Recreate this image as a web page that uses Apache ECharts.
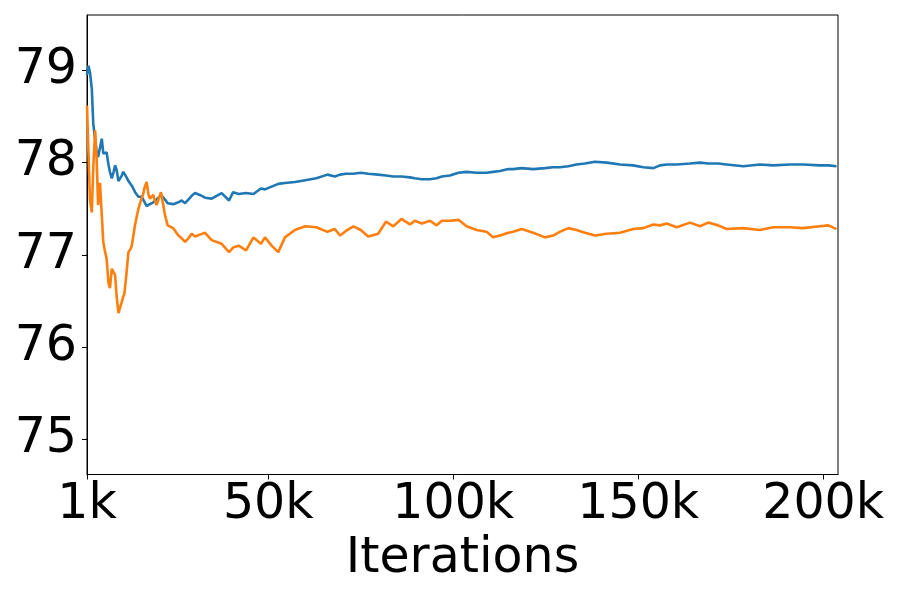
<!DOCTYPE html>
<html>
<head>
<meta charset="utf-8">
<script src="https://cdn.jsdelivr.net/npm/echarts@6/dist/echarts.min.js"></script>
<style>
  html, body { margin: 0; padding: 0; background: #fff; }
  #chart { width: 900px; height: 600px; }
</style>
</head>
<body>
<div id="chart"></div>
<script>
// iterations, in thousands
var iters = [1.0, 1.4, 1.8, 2.3, 2.7, 3.2, 3.6, 4.0, 4.5, 5.0, 5.4, 5.9, 6.3, 6.8, 7.2, 7.7, 8.2, 8.6, 9.0, 9.5,
  9.9, 10.4, 10.8, 11.1, 11.7, 12.2, 12.7, 13.1, 13.5, 14.0, 14.9, 15.8, 16.2, 16.5, 17.1, 17.6, 18.0, 18.9, 19.4, 19.8,
  21.0, 22.1, 22.8, 24.3, 25.7, 26.6, 27.5, 28.4, 29.3, 30.2, 31.5, 32.9,
  34.7, 37.4, 39.4, 40.5, 42, 44, 46, 48, 49.1, 50.9, 52.7, 54.5, 57.2, 60, 63, 66, 68, 69.4, 71, 73, 75, 77, 79.7,
  81.8, 83.8, 86, 88.3, 89.6, 91.5, 93.7, 95.5, 96.9, 99.1, 101.4, 103.6, 106.3, 109, 110.8, 112.6, 114.9, 116.2,
  118.5, 121.6, 124.8, 127, 128.8, 131.1, 133.3, 135.6, 138.3, 141.5, 145.1, 148.6, 151.4, 154.1, 155.9, 157.7,
  160.4, 164, 166.7, 168.9, 171.6, 173.9, 178.4, 182.9, 186.5, 191, 194.6, 199.1, 201.4, 203.6];

var blueAcc = [78.95, 79.05, 78.98, 78.8, 78.42, 78.25, 78.12, 78.06, 78.08, 78.26, 78.1, 78.12, 78.11, 77.98, 77.9, 77.83, 77.9, 77.97, 77.92, 77.8,
  77.79, 77.86, 77.9, 77.88, 77.84, 77.8, 77.78, 77.75, 77.72, 77.68, 77.63, 77.63, 77.6, 77.58, 77.53, 77.52, 77.55, 77.57, 77.55, 77.6,
  77.65, 77.6, 77.56, 77.55, 77.57, 77.59, 77.56, 77.6, 77.64, 77.67, 77.65, 77.62,
  77.61, 77.67, 77.59, 77.68, 77.66, 77.67, 77.66, 77.72, 77.71, 77.74, 77.77, 77.78, 77.79, 77.81, 77.83, 77.87, 77.85, 77.87, 77.88, 77.88, 77.89, 77.88, 77.87,
  77.86, 77.85, 77.85, 77.84, 77.83, 77.82, 77.82, 77.83, 77.85, 77.86, 77.89, 77.9, 77.89, 77.89, 77.9, 77.91, 77.93, 77.93,
  77.94, 77.93, 77.94, 77.95, 77.95, 77.96, 77.98, 77.99, 78.01, 78.0, 77.98, 77.97, 77.95, 77.94, 77.97, 77.98,
  77.98, 77.99, 78.0, 77.99, 77.99, 77.98, 77.96, 77.98, 77.97, 77.98, 77.98, 77.97, 77.97, 77.96];

var orangeAcc = [78.62, 78.1, 77.6, 77.46, 77.95, 78.35, 78.05, 77.54, 77.78, 77.43, 77.14, 77.03, 76.96, 76.7, 76.64, 76.85, 76.83, 76.78, 76.56, 76.37,
  76.42, 76.49, 76.55, 76.58, 76.81, 77.03, 77.06, 77.1, 77.2, 77.33, 77.5, 77.62, 77.66, 77.72, 77.79, 77.66, 77.61, 77.65, 77.58, 77.54,
  77.68, 77.43, 77.32, 77.29, 77.21, 77.18, 77.14, 77.18, 77.23, 77.2, 77.22, 77.24,
  77.16, 77.12, 77.03, 77.08, 77.1, 77.05, 77.19, 77.12, 77.19, 77.1, 77.03, 77.19, 77.27, 77.31, 77.3, 77.25, 77.28, 77.21, 77.26, 77.31, 77.27, 77.2, 77.23,
  77.36, 77.31, 77.39, 77.33, 77.37, 77.34, 77.37, 77.32, 77.37, 77.37, 77.38, 77.31, 77.27, 77.25, 77.19, 77.21, 77.24, 77.25,
  77.28, 77.24, 77.19, 77.21, 77.25, 77.29, 77.27, 77.24, 77.21, 77.23, 77.24, 77.28, 77.29, 77.33, 77.32, 77.34,
  77.3, 77.35, 77.31, 77.35, 77.32, 77.28, 77.29, 77.27, 77.3, 77.3, 77.29, 77.31, 77.32, 77.28];

var xTicks = [1, 50, 100, 150, 200];
var yTicks = [75, 76, 77, 78, 79];

function pairs(xs, ys) {
  var out = [];
  for (var i = 0; i < xs.length; i++) out.push([xs[i], ys[i]]);
  return out;
}

var myChart = echarts.init(document.getElementById('chart'));
var font = 'DejaVu Sans';

var option = {
  animation: false,
  backgroundColor: '#fff',
  grid: {
    left: 87, top: 15, width: 751, height: 459.5,
    show: true, borderColor: '#000', borderWidth: 1, backgroundColor: 'transparent'
  },
  xAxis: {
    type: 'value',
    min: 1, max: 204,
    name: 'Iterations',
    nameLocation: 'middle',
    nameGap: 58,
    nameTextStyle: { fontFamily: font, fontSize: 49, color: '#000' },
    axisLine: { show: true, onZero: false, lineStyle: { color: '#000', width: 1 } },
    axisTick: { show: true, length: 5, customValues: xTicks, lineStyle: { color: '#000', width: 1 } },
    axisLabel: {
      customValues: xTicks, margin: 6,
      fontFamily: font, fontSize: 49, color: '#000',
      formatter: function (v) { return v + 'k'; }
    },
    splitLine: { show: false }
  },
  yAxis: {
    type: 'value',
    min: 74.62, max: 79.6,
    axisLine: { show: true, onZero: false, lineStyle: { color: '#000', width: 1 } },
    axisTick: { show: true, length: 5, customValues: yTicks, lineStyle: { color: '#000', width: 1 } },
    axisLabel: {
      customValues: yTicks, margin: 10,
      fontFamily: font, fontSize: 49, color: '#000'
    },
    splitLine: { show: false }
  },
  series: [
    {
      type: 'line', data: pairs(iters, blueAcc), showSymbol: false, symbol: 'none',
      lineStyle: { color: '#1f77b4', width: 2.6 }, itemStyle: { color: '#1f77b4' }
    },
    {
      type: 'line', data: pairs(iters, orangeAcc), showSymbol: false, symbol: 'none',
      lineStyle: { color: '#ff7f0e', width: 2.6 }, itemStyle: { color: '#ff7f0e' }
    }
  ]
};

myChart.setOption(option);
</script>
</body>
</html>
